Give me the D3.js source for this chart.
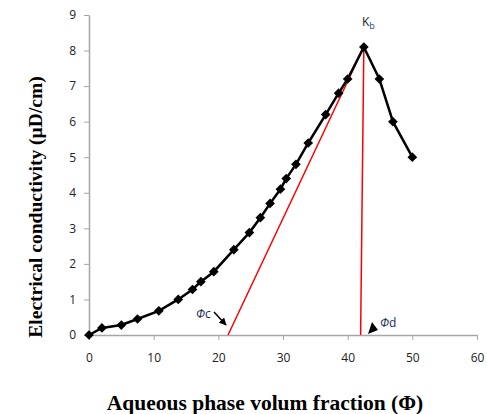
<!DOCTYPE html>
<html lang="en">
<head>
    <meta charset="UTF-8">
    <title>Electrical conductivity</title>
    <script src="https://cdn.jsdelivr.net/npm/d3@7"></script>
    <style>
        body { margin: 0; background: #fff; }
        .tick text { font-family: "Open Sans", "Liberation Sans", sans-serif; font-size: 12px; fill: #222; }
        .domain, .tick line { stroke: #a6a6a6; }
    </style>
</head>
<body>
<div id="chart"></div>
<script>
    // measured points
    const fraction = [0, 2, 5, 7.5, 10.8, 13.8, 16, 17.3, 19.3, 22.4, 24.8, 26.5, 28, 29.6, 30.5, 32, 33.9, 36.6, 38.6, 40, 42.5, 44.9, 47, 50];
    const conductivity = [0, 0.2, 0.28, 0.45, 0.68, 1.0, 1.28, 1.5, 1.78, 2.4, 2.88, 3.3, 3.7, 4.1, 4.4, 4.8, 5.4, 6.2, 6.8, 7.2, 8.1, 7.2, 6.0, 5.0];
    // red construction lines [x0, y0, x1, y1]
    const phiCLine = [21.5, 0, 42.5, 8.1];
    const phiDLine = [42, 0, 42.5, 8.1];
    const xTicks = [0, 10, 20, 30, 40, 50, 60];
    const yTicks = [0, 1, 2, 3, 4, 5, 6, 7, 8, 9];

    const width = 487, height = 414;
    const svg = d3.select('#chart').append('svg')
        .attr('width', width).attr('height', height);

    const x = d3.scaleLinear().domain([0, 60]).range([89, 477]);
    const y = d3.scaleLinear().domain([0, 9]).range([335, 15]);

    svg.append('g')
        .attr('transform', `translate(0,${y(0)})`)
        .call(d3.axisBottom(x).tickValues(xTicks).tickSize(5).tickSizeOuter(0).tickPadding(13));

    svg.append('g')
        .attr('transform', `translate(${x(0)},0)`)
        .call(d3.axisLeft(y).tickValues(yTicks).tickSize(5).tickSizeOuter(0).tickPadding(8));

    svg.selectAll('.domain').attr('stroke-width', 1.5);

    // red lines
    svg.selectAll('line.red')
        .data([phiCLine, phiDLine])
        .join('line')
        .attr('class', 'red')
        .attr('x1', d => x(d[0])).attr('y1', d => y(d[1]))
        .attr('x2', d => x(d[2])).attr('y2', d => y(d[3]))
        .attr('stroke', '#ff0000')
        .attr('stroke-width', 1.5);

    const pts = fraction.map((f, i) => [f, conductivity[i]]);

    svg.append('path')
        .datum(pts)
        .attr('fill', 'none')
        .attr('stroke', '#000')
        .attr('stroke-width', 2.5)
        .attr('d', d3.line().x(d => x(d[0])).y(d => y(d[1])));

    svg.selectAll('path.mark')
        .data(pts)
        .join('path')
        .attr('class', 'mark')
        .attr('transform', d => `translate(${x(d[0])},${y(d[1])})`)
        .attr('d', d3.symbol(d3.symbolDiamond2, 60))
        .attr('fill', '#000');

    // labels
    const kb = svg.append('text')
        .attr('x', 362).attr('y', 26)
        .attr('font-family', '"Open Sans", sans-serif')
        .attr('font-size', 12)
        .attr('fill', '#222');
    kb.append('tspan').text('K');
    kb.append('tspan').text('b').attr('font-size', 9).attr('dy', 3).attr('fill', '#1f3f7a');

    svg.append('defs').append('marker')
        .attr('id', 'arrow')
        .attr('viewBox', '0 0 10 10')
        .attr('refX', 9).attr('refY', 5)
        .attr('markerWidth', 5).attr('markerHeight', 5)
        .attr('orient', 'auto')
        .append('path').attr('d', 'M0,0L10,5L0,10z').attr('fill', '#000');

    const phiText = (px, py, sub) => {
        const t = svg.append('text')
            .attr('x', px).attr('y', py)
            .attr('font-family', '"Open Sans", sans-serif')
            .attr('font-size', 12)
            .attr('fill', '#1a2a55');
        t.append('tspan').text('Φ').attr('font-style', 'italic');
        t.append('tspan').text(sub);
    };

    phiText(196, 318, 'c');
    svg.append('line')
        .attr('x1', 214).attr('y1', 312).attr('x2', 226).attr('y2', 325)
        .attr('stroke', '#000').attr('stroke-width', 1.5)
        .attr('marker-end', 'url(#arrow)');

    phiText(380, 327, 'd');
    svg.append('path')
        .attr('d', 'M368,334L372,322L378,330Z')
        .attr('fill', '#000');

    // axis titles
    svg.append('text')
        .attr('x', 265).attr('y', 410)
        .attr('text-anchor', 'middle')
        .attr('font-family', '"Liberation Serif", "Times New Roman", serif')
        .attr('font-weight', 'bold')
        .attr('font-size', 21.5)
        .text('Aqueous phase volum fraction (Φ)');

    svg.append('text')
        .attr('transform', 'translate(42,207) rotate(-90)')
        .attr('text-anchor', 'middle')
        .attr('font-family', '"Liberation Serif", "Times New Roman", serif')
        .attr('font-weight', 'bold')
        .attr('font-size', 19.5)
        .text('Electrical conductivity (µD/cm)');
</script>
</body>
</html>
